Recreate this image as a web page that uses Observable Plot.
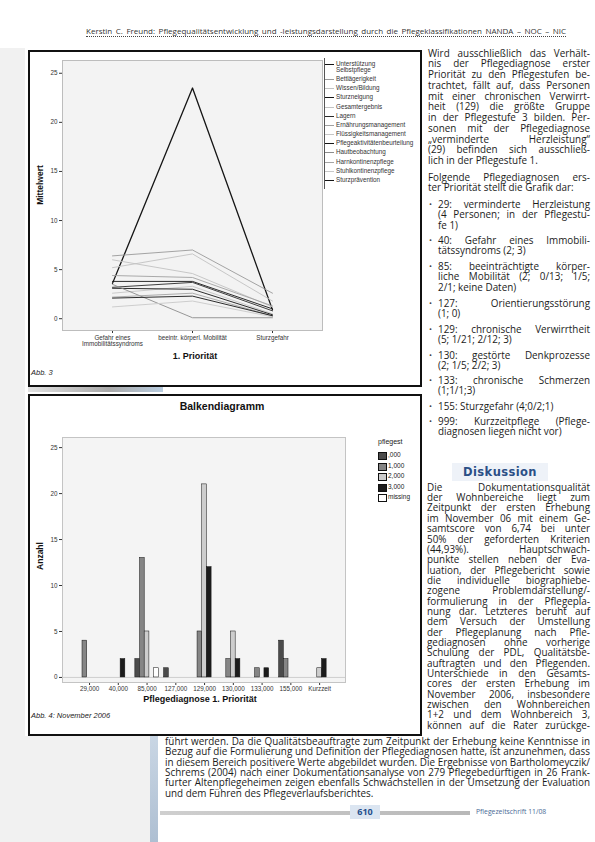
<!DOCTYPE html>
<html><head><meta charset="utf-8">
<script src="https://cdn.jsdelivr.net/npm/d3@7"></script>
<script src="https://cdn.jsdelivr.net/npm/@observablehq/plot@0.6"></script>
<style>
html,body{margin:0;padding:0;background:#fff}
#page{position:relative;width:595px;height:842px;overflow:hidden;font-family:"Open Sans",sans-serif;color:#1b1b1b}
.abs{position:absolute}
.ln{white-space:nowrap;overflow:visible}
.ln span{display:inline-block;white-space:nowrap}
.box{position:absolute;border:2px solid #111;box-sizing:border-box;background:#fff}
.cap{position:absolute;font-family:"Liberation Sans",Arial,sans-serif;font-style:italic;font-size:7.5px;color:#222;white-space:nowrap}
.ttl{position:absolute;font-family:"Liberation Sans",Arial,sans-serif;font-weight:bold;color:#111;white-space:nowrap}
.leg1{position:absolute;font-family:"Liberation Sans",Arial,sans-serif;font-size:6.3px;color:#333;white-space:pre;line-height:6.3px}
.leg2{position:absolute;font-family:"Liberation Sans",Arial,sans-serif;font-size:6.5px;color:#222;white-space:nowrap}
svg{overflow:visible}
</style></head>
<body><div id="page"></div>
<script>
// ---------- Chart 1 data (Abb. 3) ----------
const prio1Cats = ["Gefahr eines\nImmobilitätssyndroms", "beeintr. körperl. Mobilität", "Sturzgefahr"];
const itemNames = ["Unterstützung\nSelbstpflege", "Bettlägerigkeit", "Wissen/Bildung", "Sturzneigung", "Gesamtergebnis", "Lagern", "Ernährungsmanagement", "Flüssigkeitsmanagement", "Pflegeaktivitätenbeurteilung", "Hautbeobachtung", "Harnkontinenzpflege", "Stuhlkontinenzpflege", "Sturzprävention"];
const meanGefahr = [3.6, 6.4, 5.2, 3.8, 6.0, 3.2, 4.4, 2.6, 3.1, 3.5, 2.2, 1.2, 2.1];
const meanMobil  = [23.5, 7.0, 6.6, 3.8, 4.6, 3.7, 4.2, 3.3, 3.0, 0.1, 2.6, 1.8, 2.3];
const meanSturz  = [0.9, 2.6, 1.8, 1.0, 1.2, 0.8, 1.3, 0.5, 0.4, 0.1, 0.3, 0.2, 0.3];
const yTicks1 = [0, 5, 10, 15, 20, 25];

// ---------- Chart 2 data (Abb. 4) ----------
const diagCats = ["29,000", "40,000", "85,000", "127,000", "129,000", "130,000", "133,000", "155,000", "Kurzzeit"];
const stufen = [",000", "1,000", "2,000", "3,000", "missing"];
const countStufe0 = [0, 0, 2, 1, 0, 0, 0, 4, 0];
const countStufe1 = [4, 0, 13, 0, 5, 2, 1, 2, 0];
const countStufe2 = [0, 0, 5, 0, 21, 5, 0, 0, 1];
const countStufe3 = [0, 2, 0, 0, 12, 2, 1, 0, 2];
const countMissing = [0, 0, 1, 0, 0, 0, 0, 0, 0];
const yTicks2 = [0, 5, 10, 15, 20, 25];

const page = document.getElementById("page");
function el(tag, cls, css, html) {
  const e = document.createElement(tag);
  if (cls) e.className = cls;
  Object.assign(e.style, css || {});
  if (html != null) e.innerHTML = html;
  page.appendChild(e);
  return e;
}
// text block: lines starting with "~" are final lines (not justified)
function block(left, top, width, lh, fs, lines) {
  const b = el("div", "abs", {left: left + "px", top: top + "px", width: width + "px", fontSize: fs + "px", lineHeight: lh + "px"});
  lines.forEach(t => {
    const d = document.createElement("div");
    const last = t.startsWith("~");
    d.className = "ln";
    d.style.height = lh + "px";
    const s = document.createElement("span");
    s.textContent = last ? t.slice(1) : t;
    d.appendChild(s);
    b.appendChild(d);
    const w = s.getBoundingClientRect().width;
    if (w > width) {
      s.style.transform = "scaleX(" + (width / w) + ")";
      s.style.transformOrigin = "left center";
    } else if (!last) {
      const n = (s.textContent.match(/ /g) || []).length;
      if (n) s.style.wordSpacing = ((width - w) / n) + "px";
    }
  });
  return b;
}

// ---------- decorations ----------
el("div", "abs", {left: "0px", top: "48px", width: "25px", height: "794px", background: "#f1f1f1"});
el("div", "abs", {left: "0px", top: "736px", width: "150px", height: "106px", background: "#f1f1f1"});
el("div", "abs", {left: "150px", top: "736px", width: "8px", height: "106px", background: "linear-gradient(#c9d6e4,#aebfd2)"});
el("div", "abs", {left: "28px", top: "387px", width: "135px", height: "5px", background: "linear-gradient(to right,#e2e2e2,#a9a9a9 60%,#b9cde0)"});

// header
const hdr = block(86, 26, 480, 10, 8, ["Kerstin C. Freund: Pflegequalitätsentwicklung und -leistungsdarstellung durch die Pflegeklassifikationen NANDA – NOC – NIC"]);
hdr.style.borderBottom = "1px dotted #444";
hdr.style.color = "#333";

// boxes
el("div", "box", {left: "28px", top: "50px", width: "394px", height: "337px"});
el("div", "box", {left: "28px", top: "394px", width: "394px", height: "342px"});

// ---------- right column text ----------
const FS = 9.9;
block(428, 47.6, 162, 10.75, FS, [
  "Wird ausschließlich das Verhält-",
  "nis der Pflegediagnose erster",
  "Priorität zu den Pflegestufen be-",
  "trachtet, fällt auf, dass Personen",
  "mit einer chronischen Verwirrt-",
  "heit (129) die größte Gruppe",
  "in der Pflegestufe 3 bilden. Per-",
  "sonen mit der Pflegediagnose",
  "„verminderte Herzleistung“",
  "(29) befinden sich ausschließ-",
  "~lich in der Pflegestufe 1."
]);
block(428, 171.6, 162, 10.75, FS, [
  "Folgende Pflegediagnosen ers-",
  "~ter Priorität stellt die Grafik dar:"
]);
const bullets = [
  [204, ["29: verminderte Herzleistung", "(4 Personen; in der Pflegestu-", "~fe 1)"]],
  [240, ["40: Gefahr eines Immobili-", "~tätssyndroms (2; 3)"]],
  [266, ["85: beeinträchtigte körper-", "liche Mobilität (2; 0/13; 1/5;", "~2/1; keine Daten)"]],
  [303, ["127: Orientierungsstörung", "~(1; 0)"]],
  [329, ["129: chronische Verwirrtheit", "~(5; 1/21; 2/12; 3)"]],
  [355, ["130: gestörte Denkprozesse", "~(2; 1/5; 2/2; 3)"]],
  [380, ["133: chronische Schmerzen", "~(1;1/1;3)"]],
  [406, ["~155: Sturzgefahr (4;0/2;1)"]],
  [421, ["999: Kurzzeitpflege (Pflege-", "~diagnosen liegen nicht vor)"]]
];
bullets.forEach(([y, lines]) => {
  el("div", "abs", {left: "429px", top: (y - 5.3) + "px", fontSize: "8px", lineHeight: "10.6px", color: "#444"}, "•");
  block(438, y - 5.3, 152, 10.6, FS, lines);
});

// Diskussion
el("div", "abs", {left: "452px", top: "463px", width: "96px", height: "18px", background: "#eef2f8"});
el("div", "abs", {left: "452px", top: "463px", width: "96px", height: "18px", textAlign: "center", fontFamily: "\"DejaVu Sans\",sans-serif", fontWeight: "bold", fontSize: "11.5px", lineHeight: "18px", color: "#2b4f86", letterSpacing: "0.4px"}, "Diskussion");
block(427, 481.8, 163, 10.35, FS, [
  "Die Dokumentationsqualität",
  "der Wohnbereiche liegt zum",
  "Zeitpunkt der ersten Erhebung",
  "im November 06 mit einem Ge-",
  "samtscore von 6,74 bei unter",
  "50% der geforderten Kriterien",
  "(44,93%). Hauptschwach-",
  "punkte stellen neben der Eva-",
  "luation, der Pflegebericht sowie",
  "die individuelle biographiebe-",
  "zogene Problemdarstellung/-",
  "formulierung in der Pflegepla-",
  "nung dar. Letzteres beruht auf",
  "dem Versuch der Umstellung",
  "der Pflegeplanung nach Pfle-",
  "gediagnosen ohne vorherige",
  "Schulung der PDL, Qualitätsbe-",
  "auftragten und den Pflegenden.",
  "Unterschiede in den Gesamts-",
  "cores der ersten Erhebung im",
  "November 2006, insbesondere",
  "zwischen den Wohnbereichen",
  "1+2 und dem Wohnbereich 3,",
  "können auf die Rater zurückge-"
]);
block(165, 735.8, 425, 10.4, FS, [
  "führt werden. Da die Qualitätsbeauftragte zum Zeitpunkt der Erhebung keine Kenntnisse in",
  "Bezug auf die Formulierung und Definition der Pflegediagnosen hatte, ist anzunehmen, dass",
  "in diesem Bereich positivere Werte abgebildet wurden. Die Ergebnisse von Bartholomeyczik/",
  "Schrems (2004) nach einer Dokumentationsanalyse von 279 Pflegebedürftigen in 26 Frank-",
  "furter Altenpflegeheimen zeigen ebenfalls Schwachstellen in der Umsetzung der Evaluation",
  "~und dem Führen des Pflegeverlaufsberichtes."
]);

// footer
el("div", "abs", {left: "160px", top: "811px", width: "310px", height: "4px", background: "linear-gradient(to right,#cfcfcf,#b8b8b8)"});
el("div", "abs", {left: "350px", top: "805px", width: "30px", height: "14px", background: "#dbe5f1"});
el("div", "abs", {left: "350px", top: "805px", width: "30px", height: "14px", textAlign: "center", fontWeight: "bold", fontSize: "9px", lineHeight: "14px", color: "#1f4e8c"}, "610");
el("div", "abs", {left: "476px", top: "807px", fontSize: "6.8px", lineHeight: "10px", color: "#4a6a96", whiteSpace: "nowrap"}, "Pflegezeitschrift 11/08");

// ---------- Chart 1 ----------
const lineTones = ["#151515", "#9a9a9a", "#c2c2c2", "#151515", "#c2c2c2", "#2a2a2a", "#a0a0a0", "#c6c6c6", "#151515", "#8c8c8c", "#a4a4a4", "#c8c8c8", "#151515"];
const rows1 = [];
itemNames.forEach((name, i) => {
  [meanGefahr, meanMobil, meanSturz].forEach((arr, j) => rows1.push({item: name, cat: prio1Cats[j], value: arr[i]}));
});
const chart1 = Plot.plot({
  width: 300, height: 310,
  marginLeft: 34, marginRight: 6, marginTop: 8, marginBottom: 32,
  style: {fontFamily: "Liberation Sans, Arial, sans-serif", fontSize: "6.3px", color: "#333", background: "transparent"},
  x: {type: "point", domain: prio1Cats, padding: 0.62, label: null, tickSize: 3, tickPadding: 2},
  y: {domain: [-1.2, 26.3], ticks: yTicks1, label: null, tickSize: 3, tickPadding: 2},
  color: {domain: itemNames, range: lineTones},
  marks: [
    Plot.frame({fill: "#f3f3f3", stroke: "#bdbdbd"}),
    Plot.line(rows1, {x: "cat", y: "value", z: "item", stroke: "item", strokeWidth: d => d.item === itemNames[0] ? 1.3 : 0.9})
  ]
});
chart1.style.position = "absolute"; chart1.style.left = "28px"; chart1.style.top = "52px";
page.appendChild(chart1);
el("div", "ttl", {left: "10px", top: "180px", width: "60px", height: "10px", lineHeight: "10px", textAlign: "center", fontSize: "8.5px", transform: "rotate(-90deg)", transformOrigin: "center center"}, "Mittelwert");
el("div", "ttl", {left: "160px", top: "351px", width: "70px", textAlign: "center", fontSize: "9px"}, "1. Priorität");
el("div", "cap", {left: "31px", top: "368px"}, "Abb. 3");
// legend chart 1
el("div", "abs", {left: "324px", top: "58px", width: "1px", height: "131px", background: "#555"});
itemNames.forEach((name, i) => {
  const y = 61 + (i === 0 ? 0 : 6 + i * 9.15);
  el("div", "abs", {left: "325px", top: (y + 3) + "px", width: "9px", height: "0px", borderTop: "1px solid " + lineTones[i]});
  el("div", "leg1", {left: "336px", top: y + "px"}, name);
});

// ---------- Chart 2 ----------
const countsBy = [countStufe0, countStufe1, countStufe2, countStufe3, countMissing];
const barRows = [];
stufen.forEach((s, k) => countsBy[k].forEach((n, i) => { if (n > 0) barRows.push({i, k, stufe: s, n}); }));
const slot = 0.163;
const stufeFills = ["#4b4b4b", "#858585", "#cdcdcd", "#1c1c1c", "#ffffff"];
const chart2 = Plot.plot({
  width: 325, height: 275,
  marginLeft: 34, marginRight: 8, marginTop: 7, marginBottom: 23,
  style: {fontFamily: "Liberation Sans, Arial, sans-serif", fontSize: "6.3px", color: "#333", background: "transparent"},
  x: {domain: [-0.94, 8.9], ticks: d3.range(diagCats.length), tickFormat: i => diagCats[i], label: null, tickSize: 3, tickPadding: 1},
  y: {domain: [-0.55, 26.1], ticks: yTicks2, label: null, tickSize: 3, tickPadding: 2},
  color: {domain: stufen, range: stufeFills},
  marks: [
    Plot.frame({fill: "#f4f4f4", stroke: "#c4c4c4"}),
    Plot.ruleY([0], {stroke: "#cfcfcf"}),
    Plot.rectY(barRows, {
      x1: d => d.i + (d.k - 2) * slot - slot / 2,
      x2: d => d.i + (d.k - 2) * slot + slot / 2,
      y1: d => 0, y2: "n", fill: "stufe", stroke: "#111", strokeWidth: 0.5
    })
  ]
});
chart2.style.position = "absolute"; chart2.style.left = "28px"; chart2.style.top = "430px";
page.appendChild(chart2);
el("div", "ttl", {left: "172px", top: "400px", width: "100px", textAlign: "center", fontSize: "10.5px"}, "Balkendiagramm");
el("div", "ttl", {left: "15px", top: "551px", width: "50px", height: "10px", lineHeight: "10px", textAlign: "center", fontSize: "8.5px", transform: "rotate(-90deg)", transformOrigin: "center center"}, "Anzahl");
el("div", "ttl", {left: "130px", top: "694px", width: "140px", textAlign: "center", fontSize: "9px"}, "Pflegediagnose 1. Priorität");
el("div", "cap", {left: "31px", top: "711px"}, "Abb. 4: November 2006");
// legend chart 2
el("div", "leg2", {left: "378px", top: "438px", fontSize: "7px"}, "pflegest");
stufen.forEach((s, k) => {
  const y = 452 + k * 10.5;
  el("div", "abs", {left: "378px", top: y + "px", width: "7px", height: "6px", background: stufeFills[k], border: "0.6px solid #111"});
  el("div", "leg2", {left: "388px", top: (y - 1) + "px"}, s);
});
</script>
</body></html>
